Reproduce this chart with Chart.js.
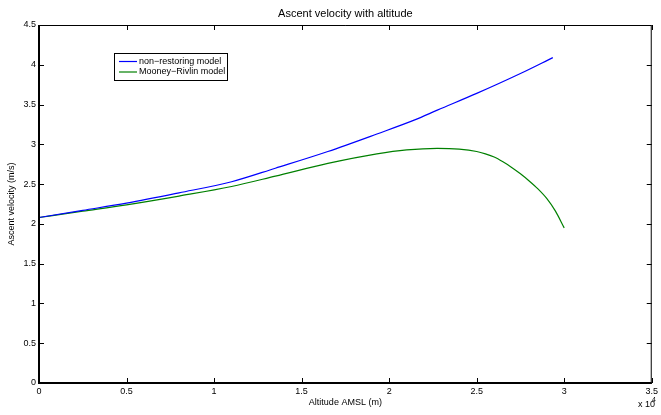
<!DOCTYPE html>
<html>
<head>
<meta charset="utf-8">
<script src="https://cdn.jsdelivr.net/npm/chart.js@4/dist/chart.umd.min.js"></script>
<style>
  html, body { margin: 0; padding: 0; background: #fff; }
  #wrap { width: 661px; height: 415px; }
</style>
</head>
<body>
<div id="wrap"><canvas id="velocityChart" width="661" height="415"></canvas></div>
<script>
/* globals Chart:false */

// altitude (m) and ascent velocity (m/s) per model
const altitudeNonRestoring = [0, 2500, 5000, 8000, 11000, 13500, 16500, 19300, 21500, 22750, 25000, 27500, 29350]
const velocityNonRestoring = [2.08, 2.17, 2.26, 2.39, 2.53, 2.70, 2.91, 3.13, 3.31, 3.43, 3.64, 3.89, 4.09]

const altitudeMooney = [0, 2500, 5000, 8000, 11000, 13500, 16500, 19300, 21000, 22750, 24000, 25000, 25500, 26000, 26500, 27000, 27500, 28000, 28500, 29000, 29500, 30000]
const velocityMooney = [2.08, 2.16, 2.24, 2.35, 2.47, 2.60, 2.76, 2.88, 2.93, 2.95, 2.94, 2.91, 2.88, 2.84, 2.78, 2.71, 2.63, 2.54, 2.44, 2.32, 2.16, 1.95]

const seriesLabels = ['non\u2212restoring model', 'Mooney\u2212Rivlin model']
const seriesColors = ['#0000ff', '#008000']
const xTicks = [0, 5000, 10000, 15000, 20000, 25000, 30000, 35000]
const yTicks = [0, 0.5, 1, 1.5, 2, 2.5, 3, 3.5, 4, 4.5]

const FONT = '"Liberation Sans", Arial, Helvetica, sans-serif'

const toPoints = (xs, ys) => xs.map((x, i) => ({ x, y: ys[i] }))

// MATLAB style frame, inward ticks, title, legend and exponent
const matlabAxes = {
  id: 'matlabAxes',
  afterDraw(chart) {
    const { ctx, chartArea: a, scales: { x, y } } = chart
    ctx.save()
    ctx.strokeStyle = '#000'

    // ticks on all four sides
    ctx.lineWidth = 1
    ctx.beginPath()
    xTicks.forEach(v => {
      const px = Math.round(x.getPixelForValue(v)) + 0.5
      ctx.moveTo(px, a.bottom); ctx.lineTo(px, a.bottom - 5)
      ctx.moveTo(px, a.top); ctx.lineTo(px, a.top + 5)
    })
    yTicks.forEach(v => {
      const py = Math.round(y.getPixelForValue(v)) + 0.5
      ctx.moveTo(a.left, py); ctx.lineTo(a.left + 5, py)
      ctx.moveTo(a.right, py); ctx.lineTo(a.right - 5, py)
    })
    ctx.stroke()

    // frame
    ctx.lineWidth = 1
    ctx.beginPath()
    ctx.moveTo(a.left, a.top + 0.5); ctx.lineTo(a.right - 0.5, a.top + 0.5); ctx.lineTo(a.right - 0.5, a.bottom)
    ctx.stroke()
    ctx.lineWidth = 2
    ctx.beginPath()
    ctx.moveTo(a.left, a.top); ctx.lineTo(a.left, a.bottom); ctx.lineTo(a.right, a.bottom)
    ctx.stroke()

    // title
    ctx.fillStyle = '#000'
    ctx.font = '11px ' + FONT
    ctx.textAlign = 'center'
    ctx.textBaseline = 'middle'
    ctx.fillText('Ascent velocity with altitude', (a.left + a.right) / 2, 14)

    // exponent label
    ctx.font = '9px ' + FONT
    ctx.textAlign = 'left'
    ctx.fillText('x 10', 638, 405)
    ctx.font = '7px ' + FONT
    ctx.fillText('4', 652, 400)

    // legend box
    const lx = 114.5, ly = 53.5, lw = 113, lh = 27
    ctx.fillStyle = '#fff'
    ctx.fillRect(lx, ly, lw, lh)
    ctx.strokeStyle = '#000'
    ctx.lineWidth = 1
    ctx.strokeRect(lx, ly, lw, lh)
    ctx.font = '9px ' + FONT
    seriesLabels.forEach((label, i) => {
      const ry = 61.5 + i * 10.5
      ctx.strokeStyle = seriesColors[i]
      ctx.lineWidth = 1.2
      ctx.beginPath()
      ctx.moveTo(119, ry); ctx.lineTo(137, ry)
      ctx.stroke()
      ctx.fillStyle = '#000'
      ctx.fillText(label, 139, ry)
    })
    ctx.restore()
  }
}

new Chart(document.getElementById('velocityChart'), {
  type: 'scatter',
  data: {
    datasets: [{
      label: seriesLabels[0],
      data: toPoints(altitudeNonRestoring, velocityNonRestoring),
      showLine: true,
      borderColor: seriesColors[0],
      borderWidth: 1.2,
      pointRadius: 0,
      cubicInterpolationMode: 'monotone'
    }, {
      label: seriesLabels[1],
      data: toPoints(altitudeMooney, velocityMooney),
      showLine: true,
      borderColor: seriesColors[1],
      borderWidth: 1.2,
      pointRadius: 0,
      cubicInterpolationMode: 'monotone'
    }]
  },
  options: {
    responsive: false,
    animation: false,
    layout: { padding: { top: 25, right: 5, left: 0, bottom: 0 } },
    plugins: {
      legend: { display: false },
      tooltip: { enabled: false },
      title: { display: false }
    },
    scales: {
      x: {
        type: 'linear',
        min: 0,
        max: 35000,
        afterBuildTicks: s => { s.ticks = xTicks.map(value => ({ value })) },
        afterFit: s => { s.height = 32 },
        grid: { display: false, drawTicks: false },
        border: { display: false },
        ticks: {
          color: '#000',
          font: { family: FONT, size: 9 },
          padding: 3,
          maxRotation: 0,
          autoSkip: false,
          callback: v => String(v / 10000)
        },
        title: {
          display: true,
          text: 'Altitude AMSL (m)',
          color: '#000',
          font: { family: FONT, size: 9 },
          padding: { top: 0, bottom: 7 }
        }
      },
      y: {
        min: 0,
        max: 4.5,
        afterBuildTicks: s => { s.ticks = yTicks.map(value => ({ value })) },
        afterFit: s => { s.width = 39 },
        grid: { display: false, drawTicks: false },
        border: { display: false },
        ticks: {
          color: '#000',
          font: { family: FONT, size: 9 },
          padding: 3,
          autoSkip: false,
          callback: v => String(v)
        },
        title: {
          display: true,
          text: 'Ascent velocity (m/s)',
          color: '#000',
          font: { family: FONT, size: 9 },
          padding: { top: 6, bottom: 0 }
        }
      }
    }
  },
  plugins: [matlabAxes]
})
</script>
</body>
</html>
